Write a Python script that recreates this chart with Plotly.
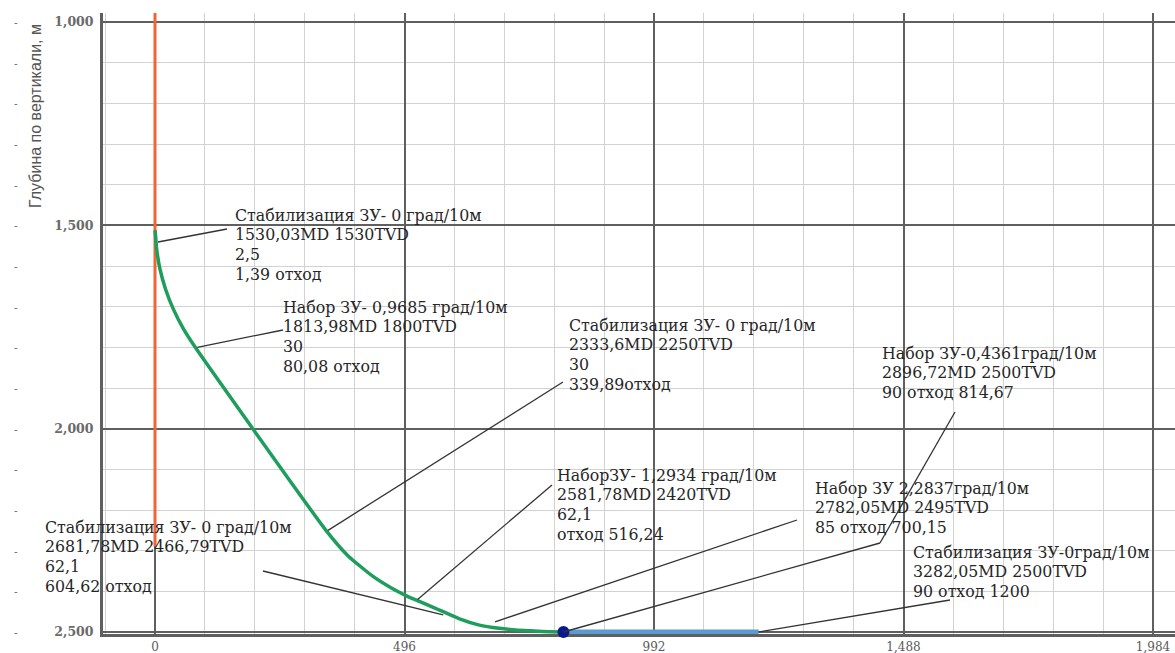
import plotly.graph_objects as go

# ---------------- data ----------------
green_dep = [0, 1.39, 3.1, 9.8, 21, 36.5, 56.3, 80.08, 339.89, 384, 432, 469, 500, 516, 560, 604, 645, 684, 722, 770, 812]
green_tvd = [1512, 1530, 1556, 1607, 1657, 1706, 1754, 1800, 2250, 2313, 2362, 2391, 2411, 2420, 2443, 2467, 2483, 2491, 2495.5, 2498.7, 2500]
vert_dep = [0, 0]
vert_tvd = [978, 2290]
horiz_dep = [812, 1200]
horiz_tvd = [2500, 2500]
dot_dep = [812]
dot_tvd = [2500]

x_ticks = [0, 496, 992, 1488, 1984]
y_ticks = [1000, 1500, 2000, 2500]
y_minor_marks = [1000, 1100, 1200, 1300, 1400, 1500, 1600, 1700, 1800, 1900,
                 2000, 2100, 2200, 2300, 2400, 2500]

y_title = "Глубина по вертикали, м"

label_lines = [
    ["Стабилизация ЗУ- 0 град/10м", "1530,03MD 1530TVD", "2,5", "1,39 отход"],
    ["Набор ЗУ- 0,9685 град/10м", "1813,98MD 1800TVD", "30", "80,08 отход"],
    ["Стабилизация ЗУ- 0 град/10м", "2333,6MD 2250TVD", "30", "339,89отход"],
    ["НаборЗУ- 1,2934 град/10м", "2581,78MD 2420TVD", "62,1", "отход 516,24"],
    ["Стабилизация ЗУ- 0 град/10м", "2681,78MD 2466,79TVD", "62,1", "604,62 отход"],
    ["Набор ЗУ-0,4361град/10м", "2896,72MD 2500TVD", "90 отход 814,67"],
    ["Набор ЗУ 2,2837град/10м", "2782,05MD 2495TVD", "85 отход 700,15"],
    ["Стабилизация ЗУ-0град/10м", "3282,05MD 2500TVD", "90 отход 1200"],
]
# points on the trajectory the leader lines start from (departure, TVD)
anchor_dep = [6, 84, 344, 522, 573, 812, 676, 1200]
anchor_tvd = [1541, 1800, 2250, 2420, 2458, 2500, 2475, 2500]

# ---------------- layout geometry (pixels) ----------------
W, H = 1175, 653
L, R, T, B = 103, 1175, 13, 634
X0PX, XSCALE = 155, 998 / 1984          # pixel of x=0, px per unit
Y0PX, YSCALE = 22, 610 / 1500           # pixel of y=1000, px per unit
LINE_STEP = 19.7


def dx(p):  # pixel -> data x
    return (p - X0PX) / XSCALE


def dy(p):  # pixel -> data y
    return 1000 + (p - Y0PX) / YSCALE


def pxp(p):  # pixel -> paper x
    return (p - L) / (R - L)


def pyp(p):  # pixel -> paper y
    return (B - p) / (B - T)


x_range = [dx(L), dx(R)]
y_range = [dy(B), dy(T)]

# text block positions (left px, first-line centre px)
label_pos = [(233, 215), (281, 307), (567, 325), (555, 475),
             (43, 527), (880, 353), (813, 488), (911, 552)]
# leader line text-side ends (pixels), possibly with a bend
leader_ends = [[(227, 229)], [(283, 330)], [(563, 382)], [(552, 485)],
               [(263, 571)], [(880, 543), (955, 412)], [(797, 520)], [(950, 600)]]

fig = go.Figure()

fig.add_trace(go.Scatter(x=vert_dep, y=vert_tvd, mode="lines",
                         line=dict(color="#f26533", width=3), hoverinfo="skip"))
fig.add_trace(go.Scatter(x=horiz_dep, y=horiz_tvd, mode="lines",
                         line=dict(color="#5b9bd5", width=5), hoverinfo="skip"))
fig.add_trace(go.Scatter(x=green_dep, y=green_tvd, mode="lines",
                         line=dict(color="#1e9e5c", width=3.5, shape="spline", smoothing=0.5),
                         hoverinfo="skip"))
fig.add_trace(go.Scatter(x=dot_dep, y=dot_tvd, mode="markers",
                         marker=dict(color="#0a1a8a", size=12), cliponaxis=False,
                         hoverinfo="skip"))

shapes = []
for (ad, at), ends in zip(zip(anchor_dep, anchor_tvd), leader_ends):
    pts = [(ad, at)] + [(dx(a), dy(b)) for a, b in ends]
    for (x0, y0), (x1, y1) in zip(pts[:-1], pts[1:]):
        shapes.append(dict(type="line", xref="x", yref="y", x0=x0, y0=y0, x1=x1, y1=y1,
                           line=dict(color="#333333", width=1.3)))

annotations = []
for lines, (lx, cy) in zip(label_lines, label_pos):
    for i, txt in enumerate(lines):
        annotations.append(dict(text=txt, xref="paper", yref="paper",
                                x=pxp(lx), y=pyp(cy + i * LINE_STEP),
                                xanchor="left", yanchor="middle", align="left",
                                showarrow=False,
                                font=dict(family="DejaVu Serif", size=15.8, color="#262626")))

annotations.append(dict(text=y_title, xref="paper", yref="paper", x=pxp(36), y=pyp(116),
                        xanchor="center", yanchor="middle", textangle=-90, showarrow=False,
                        font=dict(family="Liberation Sans", size=16, color="#555555")))
for v in y_minor_marks:
    annotations.append(dict(text="-", xref="paper", yref="paper", x=pxp(16),
                            y=pyp(Y0PX + (v - 1000) * YSCALE), xanchor="center", yanchor="middle",
                            showarrow=False,
                            font=dict(family="Liberation Sans", size=11, color="#666666")))

axis_common = dict(
    showgrid=True, gridcolor="#5f5f5f", gridwidth=2,
    showline=True, linecolor="#5f5f5f", linewidth=3,
    zeroline=False, ticks="", layer="below traces",
    tickformat=",d",
)

fig.update_layout(
    width=W, height=H,
    margin=dict(l=L, r=W - R, t=T, b=H - B, autoexpand=False),
    paper_bgcolor="white", plot_bgcolor="white",
    showlegend=False, hovermode=False,
    shapes=shapes,
    annotations=annotations,
    xaxis=dict(range=x_range, tickmode="array", tickvals=x_ticks,
               minor=dict(tick0=0, dtick=99.2, showgrid=True, gridcolor="#d2d2d2", gridwidth=1),
               tickfont=dict(family="DejaVu Serif", size=12, color="#5a5a5a"),
               ticklabelstandoff=0, **axis_common),
    yaxis=dict(range=y_range, tickmode="array", tickvals=y_ticks,
               minor=dict(tick0=0, dtick=100, showgrid=True, gridcolor="#d2d2d2", gridwidth=1),
               tickfont=dict(family="DejaVu Serif", size=12.5, color="#6a6a6a", weight="bold"),
               ticklabelstandoff=4, **axis_common),
)

fig.write_html("out.html", config={"displayModeBar": False},
               post_script="document.body.style.margin='0px';")
